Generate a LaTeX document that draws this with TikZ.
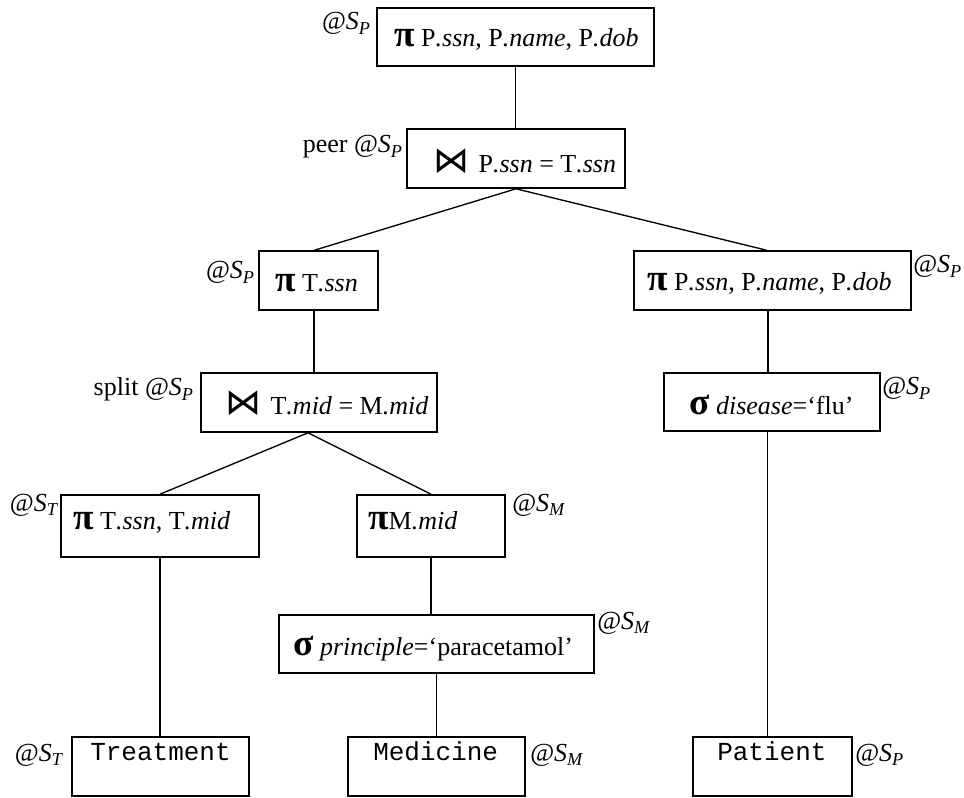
\documentclass[tikz,border=0pt]{standalone}
\usepackage{fontspec}
\setmainfont{Liberation Serif}
\setmonofont{Liberation Mono}
\newfontfamily\joinfont{DejaVu Sans}
\usetikzlibrary{calc,fit}

% operator symbols and site annotations
\newcommand{\opsym}[1]{{\fontsize{28}{28}\selectfont\bfseries #1}}
\newcommand{\opjoin}{{\joinfont\fontsize{27}{27}\selectfont ⋈}}
\newcommand{\siteat}[1]{@\textit{S}\textsubscript{\textit{#1}}}

\tikzset{
  opbox/.style={draw, line width=1.2pt, inner sep=0pt},
  optext/.style={anchor=base west, inner sep=0pt, font=\fontsize{19.5}{22}\selectfont},
  reltext/.style={anchor=base west, inner sep=0pt, font=\fontsize{19.5}{22}\selectfont\ttfamily},
  site/.style={inner sep=0pt, font=\fontsize{19.5}{22}\selectfont},
  edge/.style={line width=1pt},
}

\begin{document}
\begin{tikzpicture}[x=0.75pt,y=-0.75pt]
\useasboundingbox (0,0) rectangle (964,798);
\fill[white] (0,0) rectangle (964,798);

% operator boxes
\node[opbox, fit={(377,8) (654,66)}]   (top) {};
\node[opbox, fit={(407,129) (625,188)}] (j1) {};
\node[opbox, fit={(259,251) (378,310)}] (pts) {};
\node[opbox, fit={(634,251) (911,310)}] (pr) {};
\node[opbox, fit={(201,373) (437,432)}] (j2) {};
\node[opbox, fit={(664,373) (880,431)}] (sf) {};
\node[opbox, fit={(61,495) (259,557)}]  (ptm) {};
\node[opbox, fit={(357,495) (505,557)}] (pm) {};
\node[opbox, fit={(279,615) (594,673)}] (sp) {};
\node[opbox, fit={(72,737) (249,796)}]  (tr) {};
\node[opbox, fit={(348,737) (525,796)}] (me) {};
\node[opbox, fit={(693,737) (852,796)}] (pa) {};

% box contents
\node[optext] (top-t) at (394,47)  {\opsym{π} P\textit{.ssn}, P\textit{.name}, P\textit{.dob}};
\node[optext] (j1-t)  at (433,173) {\opjoin\hspace{7pt}P\textit{.ssn} = T\textit{.ssn}};
\node[optext] (pts-t) at (275,292) {\opsym{π} T\textit{.ssn}};
\node[optext] (pr-t)  at (647,291) {\opsym{π} P\textit{.ssn}, P\textit{.name}, P\textit{.dob}};
\node[optext] (j2-t)  at (225,415) {\opjoin\hspace{7pt}T\textit{.mid} = M\textit{.mid}};
\node[optext] (sf-t)  at (689,415) {\opsym{σ} \textit{disease}=‘flu’};
\node[optext] (ptm-t) at (73,529)  {\opsym{π} T\textit{.ssn}, T\textit{.mid}};
\node[optext] (pm-t)  at (368,529) {\opsym{π}M\textit{.mid}};
\node[optext] (sp-t)  at (293,655) {\opsym{σ} \textit{principle}=‘paracetamol’};
\node[reltext] (tr-t) at (90,760)  {Treatment};
\node[reltext] (me-t) at (373,760) {Medicine};
\node[reltext] (pa-t) at (717,760) {Patient};

% site annotations
\node[site, anchor=base east] (top-s) at (371,30)  {\siteat{P}};
\node[site, anchor=base east] (j1-s)  at (403,153) {peer \siteat{P}};
\node[site, anchor=base east] (pts-s) at (255,279) {\siteat{P}};
\node[site, anchor=base west] (pr-s)  at (913,273) {\siteat{P}};
\node[site, anchor=base east] (j2-s)  at (194,396) {split \siteat{P}};
\node[site, anchor=base west] (sf-s)  at (882,395) {\siteat{P}};
\node[site, anchor=base east] (ptm-s) at (59,511)  {\siteat{T}};
\node[site, anchor=base west] (pm-s)  at (512,511) {\siteat{M}};
\node[site, anchor=base west] (sp-s)  at (597,629) {\siteat{M}};
\node[site, anchor=base east] (tr-s)  at (64,761)  {\siteat{T}};
\node[site, anchor=base west] (me-s)  at (530,761) {\siteat{M}};
\node[site, anchor=base west] (pa-s)  at (855,761) {\siteat{P}};

% tree edges
\coordinate (j2a) at ($(j2.south)+(-11,0)$);
\coordinate (ptsx) at ($(pts.north)+(-4,0)$);
\coordinate (prx) at ($(pr.north)+(-6,0)$);
\coordinate (ptsb) at ($(pts.south)+(-4.5,0)$);
\coordinate (prb) at ($(pr.south)+(-4.5,0)$);
\coordinate (sfb) at ($(sf.south)+(-4.5,0)$);
\draw[edge] (top.south) -- (top.south |- j1.north);
\draw[edge] (j1.south) -- (ptsx);
\draw[edge] (j1.south) -- (prx);
\draw[edge] (ptsb) -- (ptsb |- j2.north);
\draw[edge] (prb) -- (prb |- sf.north);
\draw[edge] (j2a) -- (ptm.north);
\draw[edge] (j2a) -- (pm.north);
\draw[edge] (sfb) -- (sfb |- pa.north);
\draw[edge] (ptm.south) -- (ptm.south |- tr.north);
\draw[edge] (pm.south) -- (pm.south |- sp.north);
\draw[edge] (sp.south) -- (sp.south |- me.north);
\end{tikzpicture}
\end{document}
